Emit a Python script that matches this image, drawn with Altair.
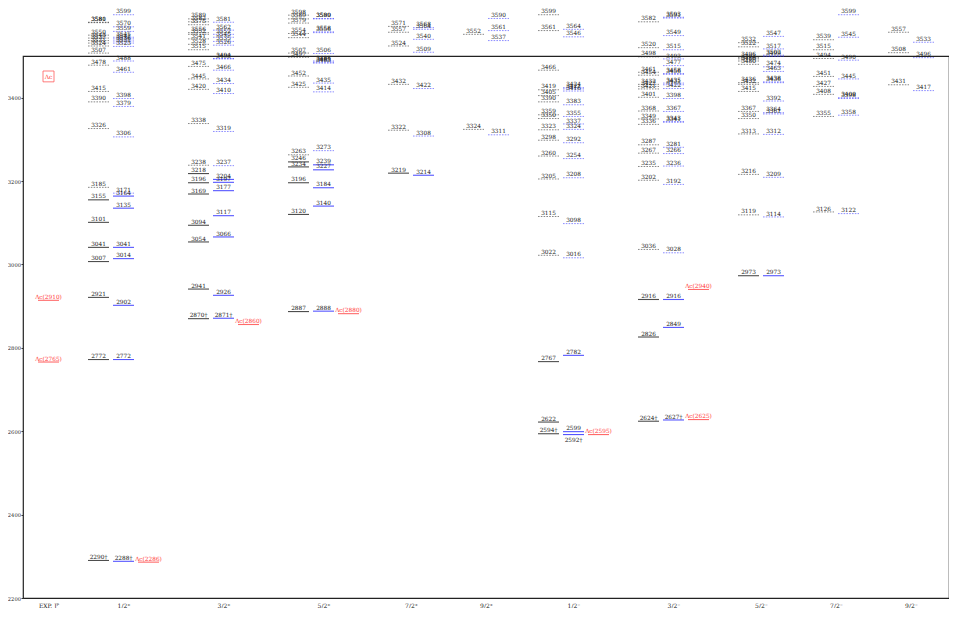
import altair as alt
import pandas as pd

# ---------------- data ----------------
groups = ["1/2+", "3/2+", "5/2+", "7/2+", "9/2+", "1/2-", "3/2-", "5/2-", "7/2-", "9/2-"]
group_text = ["1/2⁺", "3/2⁺", "5/2⁺", "7/2⁺", "9/2⁺", "1/2⁻", "3/2⁻", "5/2⁻", "7/2⁻", "9/2⁻"]

# model A (black) levels, MeV
black_12p = [2290, 2772, 2921, 3007, 3041, 3101, 3155, 3185, 3326, 3390, 3415, 3478, 3507, 3524, 3531, 3537, 3543, 3550, 3580, 3581]
black_32p = [2870, 2941, 3054, 3094, 3169, 3196, 3218, 3238, 3338, 3420, 3445, 3475, 3515, 3528, 3541, 3552, 3556, 3575, 3582, 3589]
black_52p = [2887, 3120, 3196, 3234, 3246, 3263, 3425, 3452, 3497, 3507, 3544, 3554, 3579, 3589, 3598]
black_72p = [3219, 3322, 3432, 3524, 3557, 3571]
black_92p = [3324, 3552]
black_12m = [2594, 2622, 2767, 3022, 3115, 3205, 3260, 3298, 3323, 3350, 3359, 3390, 3405, 3419, 3466, 3561, 3599]
black_32m = [2624, 2826, 2916, 3036, 3202, 3235, 3267, 3287, 3336, 3349, 3368, 3401, 3421, 3427, 3432, 3454, 3461, 3498, 3520, 3582]
black_52m = [2973, 3119, 3216, 3313, 3350, 3367, 3415, 3432, 3436, 3480, 3488, 3493, 3496, 3522, 3532]
black_72m = [3126, 3355, 3408, 3427, 3451, 3494, 3515, 3539]
black_92m = [3431, 3508, 3557]

# model B (blue) levels, MeV
blue_12p = [2288, 2772, 2902, 3014, 3041, 3135, 3164, 3171, 3306, 3379, 3398, 3461, 3488, 3523, 3531, 3536, 3541, 3545, 3559, 3570, 3599]
blue_32p = [2871, 2926, 3066, 3117, 3177, 3197, 3204, 3237, 3319, 3410, 3434, 3466, 3493, 3494, 3526, 3535, 3545, 3552, 3562, 3581]
blue_52p = [2888, 3140, 3184, 3227, 3239, 3273, 3414, 3435, 3483, 3485, 3488, 3506, 3556, 3558, 3589, 3590]
blue_72p = [3214, 3308, 3422, 3509, 3540, 3564, 3568]
blue_92p = [3311, 3537, 3561, 3590]
blue_12m = [2592, 2599, 2782, 3016, 3098, 3208, 3254, 3292, 3324, 3337, 3355, 3383, 3416, 3421, 3424, 3546, 3564]
blue_32m = [2627, 2849, 2916, 3028, 3192, 3236, 3266, 3281, 3341, 3343, 3367, 3398, 3422, 3431, 3435, 3456, 3458, 3477, 3493, 3515, 3549, 3591, 3593]
blue_52m = [2973, 3114, 3209, 3312, 3361, 3364, 3392, 3436, 3438, 3463, 3474, 3499, 3502, 3517, 3547]
blue_72m = [3122, 3358, 3398, 3400, 3445, 3490, 3545, 3599]
blue_92m = [3417, 3496, 3533]

black_cols = [black_12p, black_32p, black_52p, black_72p, black_92p, black_12m, black_32m, black_52m, black_72m, black_92m]
blue_cols = [blue_12p, blue_32p, blue_52p, blue_72p, blue_92p, blue_12m, blue_32m, blue_52m, blue_72m, blue_92m]

# levels below these energies are drawn solid, above dashed
black_threshold = [3170, 3228, 3255, 3260, 3260, 2900, 2980, 3050, 3000, 3000]
blue_threshold = [3168, 3220, 3256, 3260, 3260, 2900, 2980, 3050, 3000, 3000]

# levels marked with a dagger
black_dagger = {"1/2+": [2290], "3/2+": [2870], "1/2-": [2594], "3/2-": [2624]}
blue_dagger = {"1/2+": [2288], "3/2+": [2871], "1/2-": [2592], "3/2-": [2627]}
blue_label_below = {"1/2-": [2592]}

# experimental states: group ("EXP" = left column), name, mass
exp_group = ["EXP", "EXP", "1/2+", "3/2+", "5/2+", "1/2-", "3/2-", "3/2-"]
exp_name = ["Λc(2910)", "Λc(2765)", "Λc(2286)", "Λc(2860)", "Λc(2880)", "Λc(2595)", "Λc(2940)", "Λc(2625)"]
exp_mass = [2914, 2766, 2286, 2856, 2882, 2592, 2940, 2628]

y_ticks = [2200, 2400, 2600, 2800, 3000, 3200, 3400]

# ---------------- layout of columns ----------------
slot = {}
s = 3
for g in groups:
    slot[g] = s
    s += 4 if g in exp_group else 3
slot["EXP"] = 1
half = 0.42

rows = []
for gi, g in enumerate(groups):
    for side, cols, thr, dag in (("black", black_cols, black_threshold, black_dagger),
                                  ("blue", blue_cols, blue_threshold, blue_dagger)):
        xs = slot[g] + (0 if side == "black" else 1)
        for e in cols[gi]:
            lab = str(e) + ("†" if e in dag.get(g, []) else "")
            below = side == "blue" and e in blue_label_below.get(g, [])
            rows.append(dict(x=xs - half, x2=xs + half, xc=xs, E=e, label=lab,
                             side=side, dashed=e >= thr[gi], below=below))
lv = pd.DataFrame(rows)

erows = []
for g, n, m in zip(exp_group, exp_name, exp_mass):
    xs = 1 if g == "EXP" else slot[g] + 2
    erows.append(dict(x=xs - half, x2=xs + half, xc=xs, E=m, label=n))
ex = pd.DataFrame(erows)

centers = [1] + [slot[g] + (1 if g in exp_group else 0.5) for g in groups]
names = ["EXP. Jᴾ"] + group_text
label_expr = ""
for c, n in zip(centers, names):
    label_expr += f"abs(datum.value - {c}) < 0.01 ? '{n}' : "
label_expr += "''"

xs_scale = alt.Scale(domain=[-0.02, 37.02], nice=False, zero=False)
ys_scale = alt.Scale(domain=[2200, 3500], nice=False, zero=False)
font = "DejaVu Serif"

xaxis = alt.Axis(values=centers, labelExpr=label_expr, ticks=False, domain=False,
                 grid=False, title=None, labelFont=font, labelFontSize=6,
                 labelColor="#222", labelPadding=4)
yaxis = alt.Axis(values=y_ticks, format="d", grid=False, domain=False, title=None,
                 labelFont=font, labelFontSize=5.2, labelColor="#222",
                 tickSize=2, tickColor="#333", labelPadding=0.5)

X = lambda f: alt.X(f, scale=xs_scale, axis=xaxis)
Y = lambda f: alt.Y(f, scale=ys_scale, axis=yaxis)

base = alt.Chart(lv)
colors = alt.Color("side:N", scale=alt.Scale(domain=["black", "blue"], range=["#222222", "#2b2bff"]), legend=None)

solid = base.transform_filter("!datum.dashed").mark_rule(strokeWidth=1.1, opacity=0.8).encode(
    x=X("x:Q"), x2="x2:Q", y=Y("E:Q"), color=colors)
dashed = base.transform_filter("datum.dashed").mark_rule(strokeWidth=0.9, strokeDash=[1.6, 1.2], opacity=0.6).encode(
    x=X("x:Q"), x2="x2:Q", y=Y("E:Q"), color=colors)
labels_above = base.transform_filter("!datum.below").mark_text(
    font=font, fontSize=5.8, baseline="alphabetic", dy=-1.4, color="#222").encode(
    x=X("xc:Q"), y=Y("E:Q"), text="label:N")
labels_below = base.transform_filter("datum.below").mark_text(
    font=font, fontSize=5.8, baseline="top", dy=2, color="#222").encode(
    x=X("xc:Q"), y=Y("E:Q"), text="label:N")

eb = alt.Chart(ex)
exp_lines = eb.mark_rule(strokeWidth=1.1, color="#ff5a5a", opacity=0.9).encode(
    x=X("x:Q"), x2="x2:Q", y=Y("E:Q"))
exp_labels = eb.mark_text(font=font, fontSize=5.8, baseline="alphabetic", dy=-1.4, color="#ff3b3b").encode(
    x=X("xc:Q"), y=Y("E:Q"), text="label:N")

# header box of the experimental column
hdr = pd.DataFrame({"xc": [1], "E": [3450], "label": ["Λc"], "x": [0.78], "x2": [1.22], "E1": [3438], "E2": [3464]})
hb = alt.Chart(hdr)
hdr_box = hb.mark_rect(fill="white", stroke="#ff5a5a", strokeWidth=0.8).encode(
    x=X("x:Q"), x2="x2:Q", y=Y("E1:Q"), y2="E2:Q")
hdr_text = hb.mark_text(font=font, fontSize=6, color="#ff3b3b", baseline="middle").encode(
    x=X("xc:Q"), y=Y("E:Q"), text="label:N")

chart = alt.layer(solid, dashed, labels_above, labels_below, exp_lines, exp_labels, hdr_box, hdr_text).properties(
    width=926, height=542,
    padding={"left": 15, "top": 48, "right": 0, "bottom": 10},
    autosize=alt.AutoSizeParams(type="none"),
).configure_view(stroke="#222", strokeWidth=1.2)

chart.save("out.html", embed_options={"renderer": "svg", "actions": False})
